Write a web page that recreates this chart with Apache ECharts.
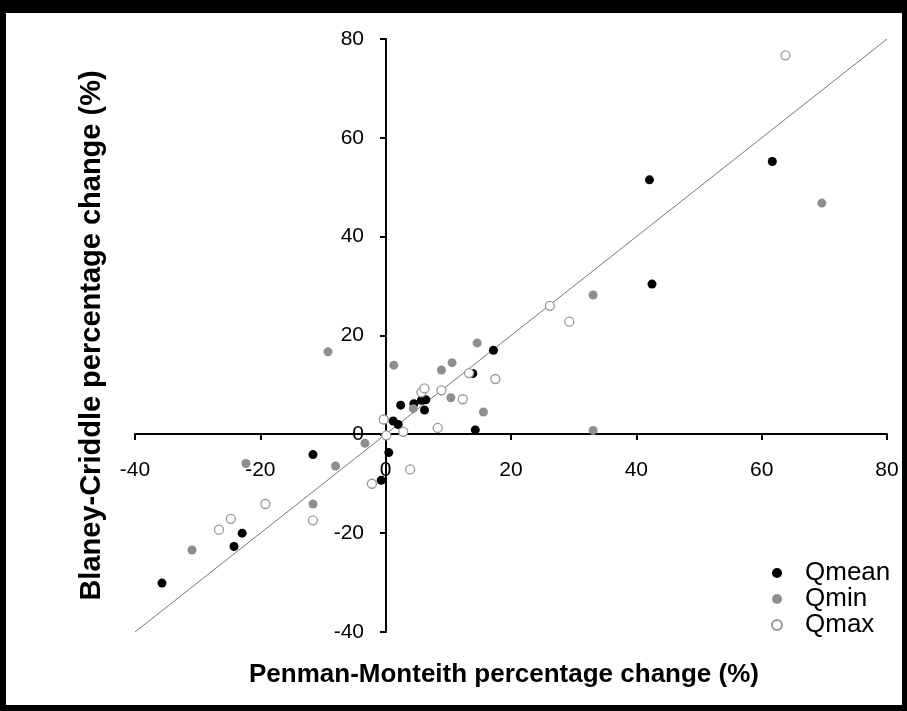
<!DOCTYPE html>
<html>
<head>
<meta charset="utf-8">
<script src="https://cdn.jsdelivr.net/npm/echarts@6/dist/echarts.min.js"></script>
<style>
html,body{margin:0;padding:0;background:#fff;}
#c{width:907px;height:711px;}
</style>
</head>
<body>
<div id="c"></div>
<script>
// Data (x = Penman-Monteith %, y = Blaney-Criddle %)
var qmean = [[-35.7,-30.1],[-24.2,-22.7],[-22.9,-20.0],[-11.6,-4.1],[-0.7,-9.3],[0.5,-3.7],[1.2,2.7],[2.0,2.0],[2.4,5.9],[4.5,6.2],[5.7,6.9],[6.4,7.0],[6.2,4.9],[13.9,12.3],[14.3,0.9],[17.2,17.0],[42.1,51.5],[42.5,30.4],[61.7,55.2]];
var qmin = [[-30.9,-23.4],[-22.3,-5.9],[-11.6,-14.1],[-9.2,16.7],[-8.0,-6.4],[-3.3,-1.8],[1.3,14.0],[4.4,5.2],[8.9,13.0],[10.6,14.5],[10.4,7.4],[14.6,18.5],[15.6,4.5],[33.1,28.2],[33.1,0.8],[69.6,46.8]];
var qmax = [[-26.6,-19.3],[-24.7,-17.1],[-19.2,-14.1],[-11.6,-17.4],[-2.2,-10.0],[-0.3,3.0],[0.1,-0.2],[2.8,0.5],[3.9,-7.1],[5.7,8.5],[6.2,9.3],[8.3,1.3],[8.9,8.9],[12.3,7.1],[13.3,12.4],[17.5,11.2],[26.2,26.0],[29.3,22.8],[63.8,76.7]];
var seriesNames = ['Qmean','Qmin','Qmax'];
var oneToOne = [-40, 80];
var axisMin = -40, axisMax = 80, axisStep = 20;
var xTitle = 'Penman-Monteith percentage change (%)';
var yTitle = 'Blaney-Criddle percentage change (%)';

var chart = echarts.init(document.getElementById('c'), null, {renderer:'canvas'});
var axisCommon = {
  type:'value', min:axisMin, max:axisMax, interval:axisStep,
  axisLine:{onZero:false, lineStyle:{color:'#000', width:2}},
  axisTick:{show:true, length:6, lineStyle:{color:'#000', width:2}},
  splitLine:{show:false},
  nameLocation:'middle'
};
chart.setOption({
  animation:false,
  backgroundColor:'#fff',
  grid:{left:135, right:20, top:39, bottom:79, containLabel:false, outerBoundsMode:'none'},
  xAxis: Object.assign({}, axisCommon, {
    position:'bottom', offset:-198,
    name:xTitle, nameGap:228,
    nameTextStyle:{fontFamily:'Liberation Sans', fontWeight:'bold', fontSize:26, color:'#000', padding:[0,14,0,0]},
    axisLabel:{margin:26, fontFamily:'Liberation Sans', fontSize:21, color:'#000'}
  }),
  yAxis: Object.assign({}, axisCommon, {
    position:'left', offset:-251,
    name:yTitle, nameGap:280,
    nameTextStyle:{fontFamily:'Liberation Sans', fontWeight:'bold', fontSize:29, color:'#000'},
    axisLabel:{margin:22, fontFamily:'Liberation Sans', fontSize:21, color:'#000'}
  }),
  legend:{
    data:seriesNames, orient:'vertical', left:766, top:555,
    itemWidth:10, itemHeight:10, itemGap:0, icon:'circle',
    textStyle:{fontFamily:'Liberation Sans', fontSize:26, lineHeight:24, color:'#000', padding:[0,0,0,18]}
  },
  series:[
    {name:'1:1', type:'line', data:[[oneToOne[0],oneToOne[0]],[oneToOne[1],oneToOne[1]]],
     symbol:'none', lineStyle:{color:'#777', width:1}, silent:true, z:1},
    {name:seriesNames[0], type:'scatter', data:qmean, symbol:'circle', symbolSize:9,
     itemStyle:{color:'#000', opacity:1}, z:3},
    {name:seriesNames[1], type:'scatter', data:qmin, symbol:'circle', symbolSize:9,
     itemStyle:{color:'#8e8e8e', opacity:1}, z:3},
    {name:seriesNames[2], type:'scatter', data:qmax, symbol:'circle', symbolSize:9,
     itemStyle:{color:'#fff', borderColor:'#999', borderWidth:1.3, opacity:1}, z:3}
  ],
  graphic:[
    {type:'rect', shape:{x:0,y:0,width:907,height:13}, style:{fill:'#000'}},
    {type:'rect', shape:{x:0,y:0,width:6,height:711}, style:{fill:'#000'}},
    {type:'rect', shape:{x:902,y:0,width:5,height:711}, style:{fill:'#000'}},
    {type:'rect', shape:{x:0,y:705,width:907,height:6}, style:{fill:'#000'}}
  ]
});
</script>
</body>
</html>
